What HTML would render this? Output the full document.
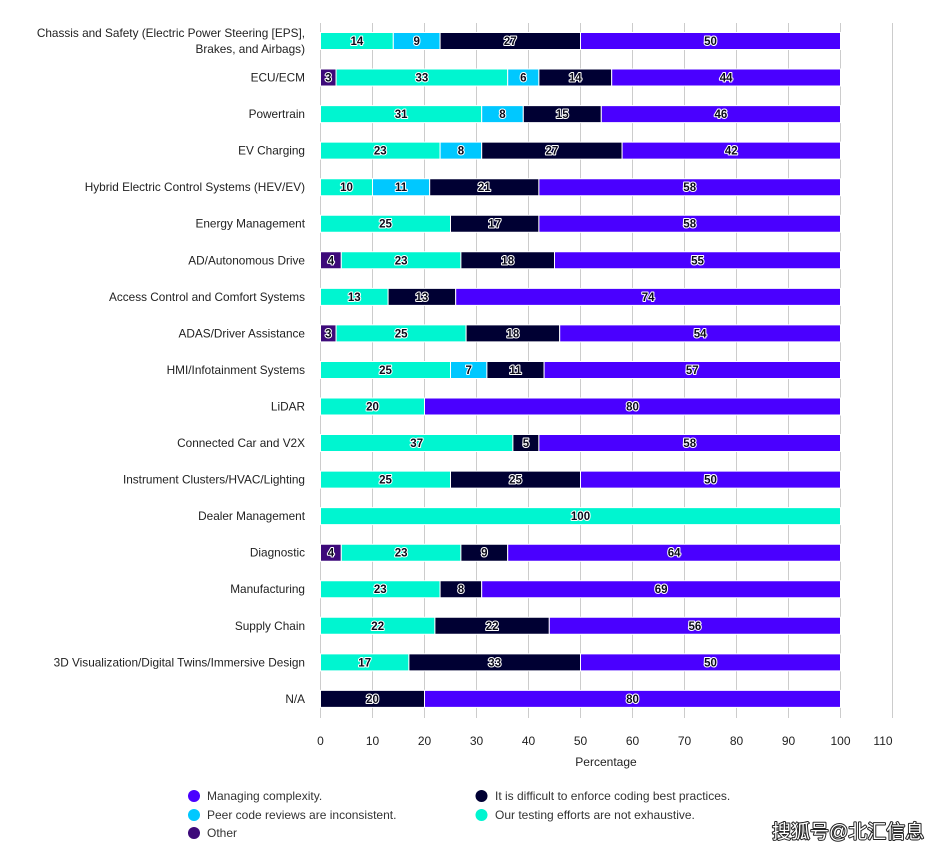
<!DOCTYPE html>
<html><head><meta charset="utf-8"><style>
html,body{margin:0;padding:0;background:#fff;}
svg{display:block;font-family:"Liberation Sans",sans-serif;}
.cat{font-size:11.8px;fill:#222;text-anchor:end;}
.v{font-size:11.5px;font-weight:bold;fill:#0a0a1a;text-anchor:middle;stroke:#fff;stroke-width:2px;paint-order:stroke;stroke-linejoin:round;}
.tk{font-size:12px;fill:#222;text-anchor:middle;}
.lg{font-size:12px;fill:#333;}
.t{fill:#00F5D0}.c{fill:#00C8FF}.n{fill:#000033}.p{fill:#4A00FF}.o{fill:#3D0A7A}
.bars rect{stroke:#fff;stroke-width:1;vector-effect:non-scaling-stroke;}
</style></head><body>
<svg width="950" height="853" viewBox="0 0 950 853" xmlns="http://www.w3.org/2000/svg">
<g stroke="#cccccc" stroke-width="1">
<line x1="320.5" y1="10" x2="320.5" y2="718"/>
<line x1="372.5" y1="10" x2="372.5" y2="718"/>
<line x1="424.5" y1="10" x2="424.5" y2="718"/>
<line x1="476.5" y1="10" x2="476.5" y2="718"/>
<line x1="528.5" y1="10" x2="528.5" y2="718"/>
<line x1="580.5" y1="10" x2="580.5" y2="718"/>
<line x1="632.5" y1="10" x2="632.5" y2="718"/>
<line x1="684.5" y1="10" x2="684.5" y2="718"/>
<line x1="736.5" y1="10" x2="736.5" y2="718"/>
<line x1="788.5" y1="10" x2="788.5" y2="718"/>
<line x1="840.5" y1="10" x2="840.5" y2="718"/>
<line x1="892.5" y1="10" x2="892.5" y2="718"/>
</g>
<rect x="0" y="0" width="950" height="23" fill="#fff"/>

<g class="bars" transform="translate(320.5,0) scale(5.2,1)">
<g transform="translate(0,41)"><rect class="t" x="0" y="-8.5" width="14" height="17"/><rect class="c" x="14" y="-8.5" width="9" height="17"/><rect class="n" x="23" y="-8.5" width="27" height="17"/><rect class="p" x="50" y="-8.5" width="50" height="17"/></g>
<g transform="translate(0,77.55)"><rect class="o" x="0" y="-8.5" width="3" height="17"/><rect class="t" x="3" y="-8.5" width="33" height="17"/><rect class="c" x="36" y="-8.5" width="6" height="17"/><rect class="n" x="42" y="-8.5" width="14" height="17"/><rect class="p" x="56" y="-8.5" width="44" height="17"/></g>
<g transform="translate(0,114.1)"><rect class="t" x="0" y="-8.5" width="31" height="17"/><rect class="c" x="31" y="-8.5" width="8" height="17"/><rect class="n" x="39" y="-8.5" width="15" height="17"/><rect class="p" x="54" y="-8.5" width="46" height="17"/></g>
<g transform="translate(0,150.65)"><rect class="t" x="0" y="-8.5" width="23" height="17"/><rect class="c" x="23" y="-8.5" width="8" height="17"/><rect class="n" x="31" y="-8.5" width="27" height="17"/><rect class="p" x="58" y="-8.5" width="42" height="17"/></g>
<g transform="translate(0,187.2)"><rect class="t" x="0" y="-8.5" width="10" height="17"/><rect class="c" x="10" y="-8.5" width="11" height="17"/><rect class="n" x="21" y="-8.5" width="21" height="17"/><rect class="p" x="42" y="-8.5" width="58" height="17"/></g>
<g transform="translate(0,223.75)"><rect class="t" x="0" y="-8.5" width="25" height="17"/><rect class="n" x="25" y="-8.5" width="17" height="17"/><rect class="p" x="42" y="-8.5" width="58" height="17"/></g>
<g transform="translate(0,260.3)"><rect class="o" x="0" y="-8.5" width="4" height="17"/><rect class="t" x="4" y="-8.5" width="23" height="17"/><rect class="n" x="27" y="-8.5" width="18" height="17"/><rect class="p" x="45" y="-8.5" width="55" height="17"/></g>
<g transform="translate(0,296.85)"><rect class="t" x="0" y="-8.5" width="13" height="17"/><rect class="n" x="13" y="-8.5" width="13" height="17"/><rect class="p" x="26" y="-8.5" width="74" height="17"/></g>
<g transform="translate(0,333.4)"><rect class="o" x="0" y="-8.5" width="3" height="17"/><rect class="t" x="3" y="-8.5" width="25" height="17"/><rect class="n" x="28" y="-8.5" width="18" height="17"/><rect class="p" x="46" y="-8.5" width="54" height="17"/></g>
<g transform="translate(0,369.95)"><rect class="t" x="0" y="-8.5" width="25" height="17"/><rect class="c" x="25" y="-8.5" width="7" height="17"/><rect class="n" x="32" y="-8.5" width="11" height="17"/><rect class="p" x="43" y="-8.5" width="57" height="17"/></g>
<g transform="translate(0,406.5)"><rect class="t" x="0" y="-8.5" width="20" height="17"/><rect class="p" x="20" y="-8.5" width="80" height="17"/></g>
<g transform="translate(0,443.05)"><rect class="t" x="0" y="-8.5" width="37" height="17"/><rect class="n" x="37" y="-8.5" width="5" height="17"/><rect class="p" x="42" y="-8.5" width="58" height="17"/></g>
<g transform="translate(0,479.6)"><rect class="t" x="0" y="-8.5" width="25" height="17"/><rect class="n" x="25" y="-8.5" width="25" height="17"/><rect class="p" x="50" y="-8.5" width="50" height="17"/></g>
<g transform="translate(0,516.15)"><rect class="t" x="0" y="-8.5" width="100" height="17"/></g>
<g transform="translate(0,552.7)"><rect class="o" x="0" y="-8.5" width="4" height="17"/><rect class="t" x="4" y="-8.5" width="23" height="17"/><rect class="n" x="27" y="-8.5" width="9" height="17"/><rect class="p" x="36" y="-8.5" width="64" height="17"/></g>
<g transform="translate(0,589.25)"><rect class="t" x="0" y="-8.5" width="23" height="17"/><rect class="n" x="23" y="-8.5" width="8" height="17"/><rect class="p" x="31" y="-8.5" width="69" height="17"/></g>
<g transform="translate(0,625.8)"><rect class="t" x="0" y="-8.5" width="22" height="17"/><rect class="n" x="22" y="-8.5" width="22" height="17"/><rect class="p" x="44" y="-8.5" width="56" height="17"/></g>
<g transform="translate(0,662.35)"><rect class="t" x="0" y="-8.5" width="17" height="17"/><rect class="n" x="17" y="-8.5" width="33" height="17"/><rect class="p" x="50" y="-8.5" width="50" height="17"/></g>
<g transform="translate(0,698.9)"><rect class="n" x="0" y="-8.5" width="20" height="17"/><rect class="p" x="20" y="-8.5" width="80" height="17"/></g>
</g>

<g>
<text class="v" x="356.9" y="45">14</text><text class="v" x="416.7" y="45">9</text><text class="v" x="510.3" y="45">27</text><text class="v" x="710.5" y="45">50</text>
<text class="v" x="328.3" y="81.5">3</text><text class="v" x="421.9" y="81.5">33</text><text class="v" x="523.3" y="81.5">6</text><text class="v" x="575.3" y="81.5">14</text><text class="v" x="726.1" y="81.5">44</text>
<text class="v" x="401.1" y="118">31</text><text class="v" x="502.5" y="118">8</text><text class="v" x="562.3" y="118">15</text><text class="v" x="720.9" y="118">46</text>
<text class="v" x="380.3" y="154.6">23</text><text class="v" x="460.9" y="154.6">8</text><text class="v" x="551.9" y="154.6">27</text><text class="v" x="731.3" y="154.6">42</text>
<text class="v" x="346.5" y="191.2">10</text><text class="v" x="401.1" y="191.2">11</text><text class="v" x="484.3" y="191.2">21</text><text class="v" x="689.7" y="191.2">58</text>
<text class="v" x="385.5" y="227.7">25</text><text class="v" x="494.7" y="227.7">17</text><text class="v" x="689.7" y="227.7">58</text>
<text class="v" x="330.9" y="264.3">4</text><text class="v" x="401.1" y="264.3">23</text><text class="v" x="507.7" y="264.3">18</text><text class="v" x="697.5" y="264.3">55</text>
<text class="v" x="354.3" y="300.8">13</text><text class="v" x="421.9" y="300.8">13</text><text class="v" x="648.1" y="300.8">74</text>
<text class="v" x="328.3" y="337.4">3</text><text class="v" x="401.1" y="337.4">25</text><text class="v" x="512.9" y="337.4">18</text><text class="v" x="700.1" y="337.4">54</text>
<text class="v" x="385.5" y="373.9">25</text><text class="v" x="468.7" y="373.9">7</text><text class="v" x="515.5" y="373.9">11</text><text class="v" x="692.3" y="373.9">57</text>
<text class="v" x="372.5" y="410.5">20</text><text class="v" x="632.5" y="410.5">80</text>
<text class="v" x="416.7" y="447">37</text><text class="v" x="525.9" y="447">5</text><text class="v" x="689.7" y="447">58</text>
<text class="v" x="385.5" y="483.6">25</text><text class="v" x="515.5" y="483.6">25</text><text class="v" x="710.5" y="483.6">50</text>
<text class="v" x="580.5" y="520.1">100</text>
<text class="v" x="330.9" y="556.7">4</text><text class="v" x="401.1" y="556.7">23</text><text class="v" x="484.3" y="556.7">9</text><text class="v" x="674.1" y="556.7">64</text>
<text class="v" x="380.3" y="593.2">23</text><text class="v" x="460.9" y="593.2">8</text><text class="v" x="661.1" y="593.2">69</text>
<text class="v" x="377.7" y="629.8">22</text><text class="v" x="492.1" y="629.8">22</text><text class="v" x="694.9" y="629.8">56</text>
<text class="v" x="364.7" y="666.3">17</text><text class="v" x="494.7" y="666.3">33</text><text class="v" x="710.5" y="666.3">50</text>
<text class="v" x="372.5" y="702.9">20</text><text class="v" x="632.5" y="702.9">80</text>
</g>

<g>
<text class="cat" x="305" y="37">Chassis and Safety (Electric Power Steering [EPS],</text>
<text class="cat" x="305" y="53">Brakes, and Airbags)</text>
<text class="cat" x="305" y="81.5">ECU/ECM</text>
<text class="cat" x="305" y="118">Powertrain</text>
<text class="cat" x="305" y="154.6">EV Charging</text>
<text class="cat" x="305" y="191.2">Hybrid Electric Control Systems (HEV/EV)</text>
<text class="cat" x="305" y="227.7">Energy Management</text>
<text class="cat" x="305" y="264.3">AD/Autonomous Drive</text>
<text class="cat" x="305" y="300.8">Access Control and Comfort Systems</text>
<text class="cat" x="305" y="337.4">ADAS/Driver Assistance</text>
<text class="cat" x="305" y="373.9">HMI/Infotainment Systems</text>
<text class="cat" x="305" y="410.5">LiDAR</text>
<text class="cat" x="305" y="447">Connected Car and V2X</text>
<text class="cat" x="305" y="483.6">Instrument Clusters/HVAC/Lighting</text>
<text class="cat" x="305" y="520.1">Dealer Management</text>
<text class="cat" x="305" y="556.7">Diagnostic</text>
<text class="cat" x="305" y="593.2">Manufacturing</text>
<text class="cat" x="305" y="629.8">Supply Chain</text>
<text class="cat" x="305" y="666.3">3D Visualization/Digital Twins/Immersive Design</text>
<text class="cat" x="305" y="702.9">N/A</text>
</g>

<g>
<text class="tk" x="320.5" y="745">0</text>
<text class="tk" x="372.5" y="745">10</text>
<text class="tk" x="424.5" y="745">20</text>
<text class="tk" x="476.5" y="745">30</text>
<text class="tk" x="528.5" y="745">40</text>
<text class="tk" x="580.5" y="745">50</text>
<text class="tk" x="632.5" y="745">60</text>
<text class="tk" x="684.5" y="745">70</text>
<text class="tk" x="736.5" y="745">80</text>
<text class="tk" x="788.5" y="745">90</text>
<text class="tk" x="840.5" y="745">100</text>
<text class="tk" x="883" y="745">110</text>
<text class="tk" x="606" y="766">Percentage</text>
</g>

<g>
<circle cx="194" cy="796" r="6" fill="#4A00FF"/>
<text class="lg" x="207" y="800">Managing complexity.</text>
<circle cx="194" cy="815" r="6" fill="#00C8FF"/>
<text class="lg" x="207" y="819">Peer code reviews are inconsistent.</text>
<circle cx="194" cy="833" r="6" fill="#3D0A7A"/>
<text class="lg" x="207" y="837">Other</text>
<circle cx="481.5" cy="796" r="6" fill="#000033"/>
<text class="lg" x="495" y="800">It is difficult to enforce coding best practices.</text>
<circle cx="481.5" cy="815" r="6" fill="#00F5D0"/>
<text class="lg" x="495" y="819">Our testing efforts are not exhaustive.</text>
</g>

<text x="772" y="838" style="font-family:'Liberation Sans','Noto Sans CJK SC',sans-serif;font-size:19px;fill:#fff;stroke:#222;stroke-width:2px;paint-order:stroke;stroke-linejoin:round;">搜狐号@北汇信息</text>
</svg>
</body></html>
